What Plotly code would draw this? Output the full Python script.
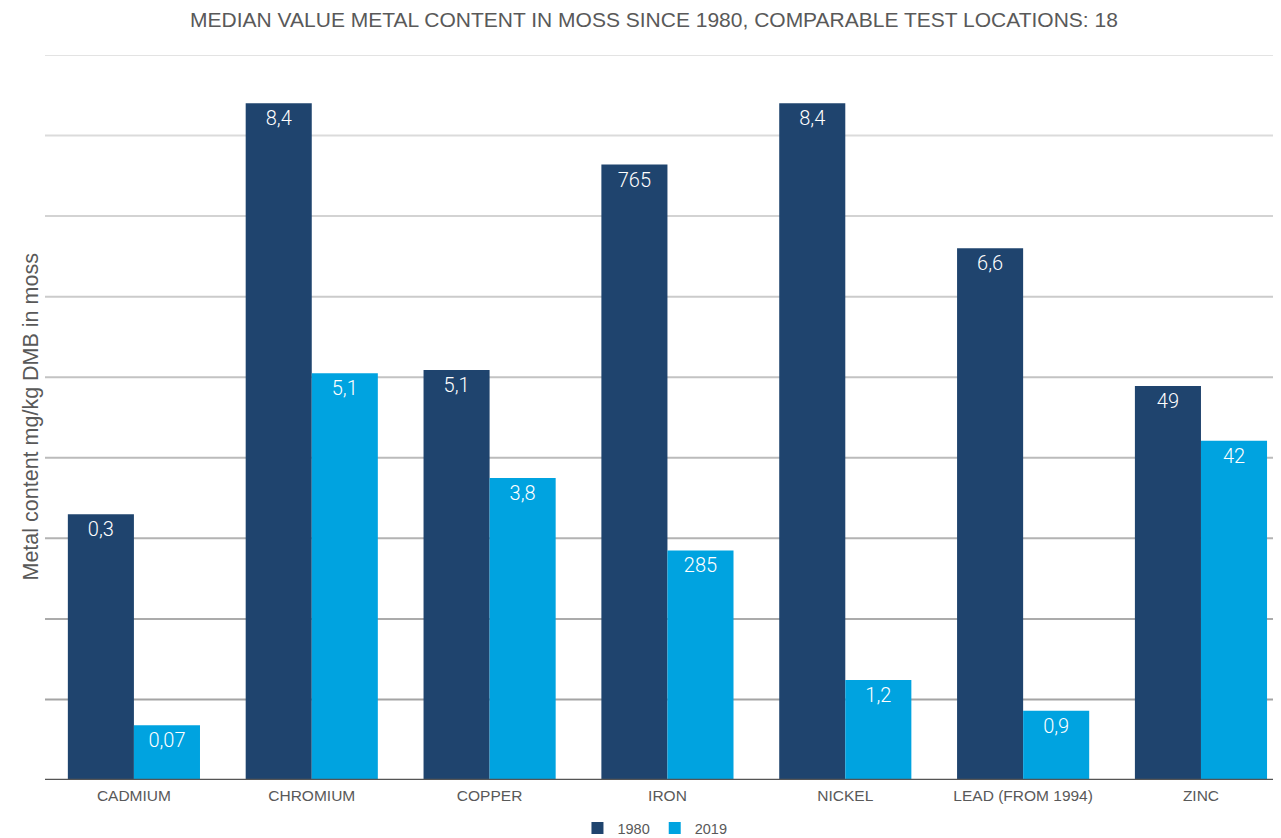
import plotly.graph_objects as go

categories = ["CADMIUM", "CHROMIUM", "COPPER", "IRON", "NICKEL", "LEAD (FROM 1994)", "ZINC"]
# bar heights as drawn (chart scale, grid units)
height_1980 = [3.30, 8.40, 5.09, 7.64, 8.40, 6.60, 4.89]
height_2019 = [0.68, 5.05, 3.75, 2.85, 1.24, 0.86, 4.21]
# value labels shown on bars
labels_1980 = ["0,3", "8,4", "5,1", "765", "8,4", "6,6", "49"]
labels_2019 = ["0,07", "5,1", "3,8", "285", "1,2", "0,9", "42"]
grid_values = [1, 2, 3, 4, 5, 6, 7, 8, 9]

FONT = "Liberation Sans"
LABEL_FONT = "Roboto"
C1980 = "#1f446e"
C2019 = "#00a3e0"

fig = go.Figure()
fig.add_trace(go.Bar(
    name="1980", x=categories, y=height_1980, text=labels_1980,
    marker=dict(color=C1980, line=dict(width=0)),
    textposition="inside", insidetextanchor="end",
    textfont=dict(family=LABEL_FONT, size=20, color="white", weight=300),
    hoverinfo="skip",
))
fig.add_trace(go.Bar(
    name="2019", x=categories, y=height_2019, text=labels_2019,
    marker=dict(color=C2019, line=dict(width=0)),
    textposition="inside", insidetextanchor="end",
    textfont=dict(family=LABEL_FONT, size=20, color="white", weight=300),
    hoverinfo="skip",
))

# graded grid lines (darker near the bottom, lighter at top)
shapes = []
n = len(grid_values)
for i, g in enumerate(grid_values):
    t = i / (n - 1)
    v = int(0xa4 + (0xe3 - 0xa4) * t)
    col = f"rgb({v},{v},{v})"
    shapes.append(dict(type="line", xref="paper", x0=0, x1=1, yref="y", y0=g, y1=g,
                       line=dict(color=col, width=2), layer="below"))
shapes.append(dict(type="line", xref="paper", x0=0, x1=1, yref="y", y0=0, y1=0,
                   line=dict(color="#555555", width=2.5), layer="above"))

fig.update_layout(
    width=1281, height=838,
    margin=dict(l=37, r=8, t=47, b=66, autoexpand=False),
    paper_bgcolor="white", plot_bgcolor="white",
    barmode="group", bargap=0.257, bargroupgap=0,
    font=dict(family=FONT, color="#595959"),
    title=dict(text="MEDIAN VALUE METAL CONTENT IN MOSS SINCE 1980, COMPARABLE TEST LOCATIONS: 18",
               font=dict(family=FONT, size=21, color="#595959"),
               xref="paper", x=0.4927, xanchor="center",
               yref="container", y=1 - 12 / 838, yanchor="middle"),
    xaxis=dict(range=[-0.5, 6.45], showgrid=False, showline=False, ticks="",
               ticklabelstandoff=4,
               tickfont=dict(family=FONT, size=15.5, color="#595959")),
    yaxis=dict(range=[0, 9], showgrid=False, showticklabels=False, zeroline=False,
               showline=False, ticks=""),
    legend=dict(orientation="h", x=0.4935, xanchor="center",
                yref="container", y=18 / 838, yanchor="middle",
                font=dict(family=FONT, size=14.5, color="#595959"),
                itemwidth=30, tracegroupgap=0, traceorder="normal"),
    shapes=shapes,
    annotations=[dict(text="Metal content mg/kg DMB in moss", textangle=-90,
                      xref="paper", x=(22 - 37) / 1236, xanchor="center",
                      yref="paper", y=0.5, yanchor="middle", showarrow=False,
                      font=dict(family=FONT, size=21.5, color="#595959"))],
)

fig.write_html("out.html")
